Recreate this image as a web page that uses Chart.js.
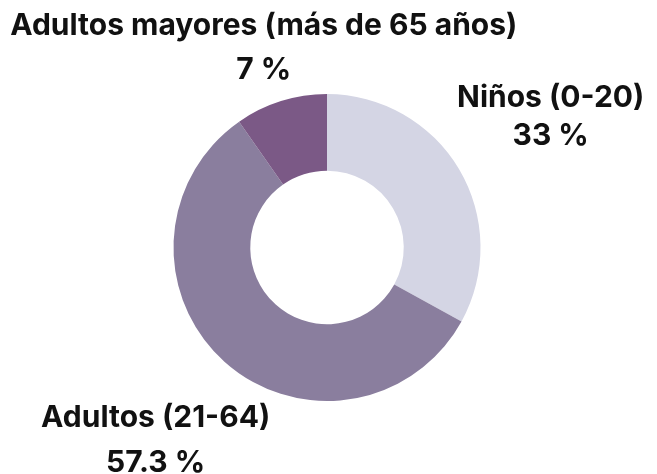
<!DOCTYPE html>
<html>
<head>
<meta charset="utf-8">
<script src="https://cdn.jsdelivr.net/npm/chart.js@4"></script>
<style>
  html, body { margin: 0; padding: 0; background: #ffffff; }
  #wrap { width: 657px; height: 474px; position: relative; }
</style>
</head>
<body>
<div id="wrap"><canvas id="c" width="657" height="474"></canvas></div>
<script>
const categories = ['Niños (0-20)', 'Adultos (21-64)', 'Adultos mayores (más de 65 años)'];
const values = [33, 57.3, 9.7];
const valueLabels = ['33 %', '57.3 %', '7 %'];
const colors = ['#d4d5e4', '#8a7e9e', '#7b5986'];

const labelPlacement = [
  { r: 1.693, gap: 38.5 },
  { r: 1.670, gap: 45 },
  { r: 1.373, gap: 44 }
];

const outerLabels = {
  id: 'outerLabels',
  afterDraw(chart) {
    const ctx = chart.ctx;
    const meta = chart.getDatasetMeta(0);
    const capH = 22;
    ctx.save();
    ctx.fillStyle = '#111111';
    ctx.textAlign = 'center';
    ctx.textBaseline = 'alphabetic';
    ctx.font = '700 30px Inter';
    meta.data.forEach((arc, i) => {
      const p = arc.getProps(['x', 'y', 'startAngle', 'endAngle', 'outerRadius'], true);
      const mid = (p.startAngle + p.endAngle) / 2;
      const pl = labelPlacement[i];
      const cx = p.x + Math.cos(mid) * p.outerRadius * pl.r;
      const cy = p.y + Math.sin(mid) * p.outerRadius * pl.r;
      const b1 = cy - (capH + pl.gap) / 2 + capH;
      ctx.fillText(chart.data.labels[i], cx, b1);
      ctx.fillText(valueLabels[i], cx, b1 + pl.gap);
    });
    ctx.restore();
  }
};

new Chart(document.getElementById('c'), {
  type: 'doughnut',
  data: {
    labels: categories,
    datasets: [{
      data: values,
      backgroundColor: colors,
      borderWidth: 0
    }]
  },
  options: {
    responsive: false,
    animation: false,
    cutout: '50%',
    layout: { padding: { top: 94, bottom: 73, left: 173.5, right: 176.5 } },
    plugins: { legend: { display: false }, tooltip: { enabled: false } }
  },
  plugins: [outerLabels]
});
</script>
</body>
</html>
